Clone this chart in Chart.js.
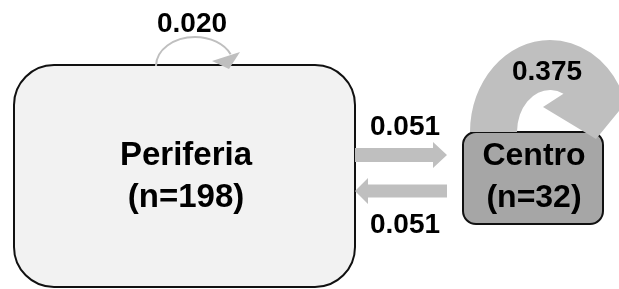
<!DOCTYPE html>
<html>
<head>
<meta charset="utf-8">
<script src="https://cdn.jsdelivr.net/npm/chart.js@4.4.1/dist/chart.umd.min.js"></script>
<style>
  html, body { margin: 0; padding: 0; background: #fff; }
  canvas { display: block; }
</style>
</head>
<body>
<canvas id="diagrama" width="619" height="289"></canvas>
<script>
// Datos del diagrama de transiciones
const estados = ['Periferia', 'Centro'];
const tamanos = [198, 32];
const transDesde = ['Periferia', 'Periferia', 'Centro', 'Centro'];
const transHacia = ['Periferia', 'Centro', 'Periferia', 'Centro'];
const transProb = [0.020, 0.051, 0.051, 0.375];

// Disposición (coordenadas del plano, no datos)
const cajas = {
    Periferia: { x0: 14, y0: 65, x1: 355, y1: 287, r: 40, fondo: '#f2f2f2', fuente: 33, cx: 186, base: 165 },
    Centro:    { x0: 463, y0: 132, x1: 603, y1: 224, r: 13, fondo: '#a6a6a6', fuente: 32, cx: 534, base: 165 }
};

const flechas = {
    'Periferia>Periferia': { tipo: 'lazoFino', cx: 195, cy: 66, rx: 39, ry: 29, fin: -0.42,
        cabeza: [[212, 61], [240, 52], [229, 69]], etiqueta: [192, 32] },
    'Periferia>Centro': { tipo: 'recta', x0: 355, x1: 447, y: 155, grosor: 14, anchoCabeza: 26, largoCabeza: 14, etiqueta: [405, 135] },
    'Centro>Periferia': { tipo: 'recta', x0: 447, x1: 355, y: 191, grosor: 13, anchoCabeza: 26, largoCabeza: 13, etiqueta: [405, 233] },
    'Centro>Centro': { tipo: 'lazoGrueso', cx: 550, cy: 132, rxo: 80, ryo: 92, rxi: 33, ryi: 42, finExt: -0.5, finInt: -1.15,
        cabeza: [[643, 82], [596, 139], [543, 107]], etiqueta: [547, 80] }
};

const GRIS = '#bfbfbf';
const FUENTE = "'Liberation Sans', Arial, sans-serif";

const diagramaPlugin = {
    id: 'diagrama',
    afterDraw(chart) {
        const ctx = chart.ctx;
        const sx = v => chart.scales.x.getPixelForValue(v);
        const sy = v => chart.scales.y.getPixelForValue(v);
        const kx = Math.abs(sx(1) - sx(0));
        const ky = Math.abs(sy(1) - sy(0));

        ctx.save();

        // Cajas de estados
        estados.forEach(e => {
            const c = cajas[e];
            ctx.beginPath();
            ctx.roundRect(sx(c.x0), sy(c.y0), (c.x1 - c.x0) * kx, (c.y1 - c.y0) * ky, c.r * kx);
            ctx.fillStyle = c.fondo;
            ctx.fill();
            ctx.lineWidth = 2;
            ctx.strokeStyle = '#111';
            ctx.stroke();
        });

        // Transiciones
        transProb.forEach((p, i) => {
            const f = flechas[transDesde[i] + '>' + transHacia[i]];
            ctx.fillStyle = GRIS;
            ctx.strokeStyle = GRIS;

            if (f.tipo === 'recta') {
                const dir = Math.sign(f.x1 - f.x0);
                const xb = f.x1 - dir * f.largoCabeza;
                ctx.beginPath();
                ctx.moveTo(sx(f.x0), sy(f.y - f.grosor / 2));
                ctx.lineTo(sx(xb), sy(f.y - f.grosor / 2));
                ctx.lineTo(sx(xb), sy(f.y - f.anchoCabeza / 2));
                ctx.lineTo(sx(f.x1), sy(f.y));
                ctx.lineTo(sx(xb), sy(f.y + f.anchoCabeza / 2));
                ctx.lineTo(sx(xb), sy(f.y + f.grosor / 2));
                ctx.lineTo(sx(f.x0), sy(f.y + f.grosor / 2));
                ctx.closePath();
                ctx.fill();
            } else if (f.tipo === 'lazoFino') {
                ctx.beginPath();
                ctx.ellipse(sx(f.cx), sy(f.cy), f.rx * kx, f.ry * ky, 0, Math.PI, 2 * Math.PI + f.fin, false);
                ctx.lineWidth = 2;
                ctx.stroke();
                ctx.beginPath();
                f.cabeza.forEach((pt, k) => k ? ctx.lineTo(sx(pt[0]), sy(pt[1])) : ctx.moveTo(sx(pt[0]), sy(pt[1])));
                ctx.closePath();
                ctx.fill();
            } else {
                ctx.beginPath();
                ctx.ellipse(sx(f.cx), sy(f.cy), f.rxo * kx, f.ryo * ky, 0, Math.PI, 2 * Math.PI + f.finExt, false);
                f.cabeza.forEach(pt => ctx.lineTo(sx(pt[0]), sy(pt[1])));
                ctx.ellipse(sx(f.cx), sy(f.cy), f.rxi * kx, f.ryi * ky, 0, 2 * Math.PI + f.finInt, Math.PI, true);
                ctx.closePath();
                ctx.fill();
            }

            // Etiqueta de probabilidad
            ctx.fillStyle = '#000';
            ctx.font = 'bold 28px ' + FUENTE;
            ctx.textAlign = 'center';
            ctx.textBaseline = 'alphabetic';
            ctx.fillText(p.toFixed(3), sx(f.etiqueta[0]), sy(f.etiqueta[1]));
        });

        // Nombres de estados
        estados.forEach((e, i) => {
            const c = cajas[e];
            ctx.fillStyle = '#000';
            ctx.font = 'bold ' + c.fuente + 'px ' + FUENTE;
            ctx.textAlign = 'center';
            ctx.fillText(e, sx(c.cx), sy(c.base));
            ctx.fillText('(n=' + tamanos[i] + ')', sx(c.cx), sy(c.base + 42));
        });

        ctx.restore();
    }
};

new Chart(document.getElementById('diagrama'), {
    type: 'scatter',
    data: { datasets: [] },
    options: {
        responsive: false,
        animation: false,
        layout: { padding: 0 },
        plugins: { legend: { display: false }, tooltip: { enabled: false } },
        scales: {
            x: { type: 'linear', min: 0, max: 619, display: false },
            y: { type: 'linear', min: 0, max: 289, reverse: true, display: false }
        }
    },
    plugins: [diagramaPlugin]
});
</script>
</body>
</html>
